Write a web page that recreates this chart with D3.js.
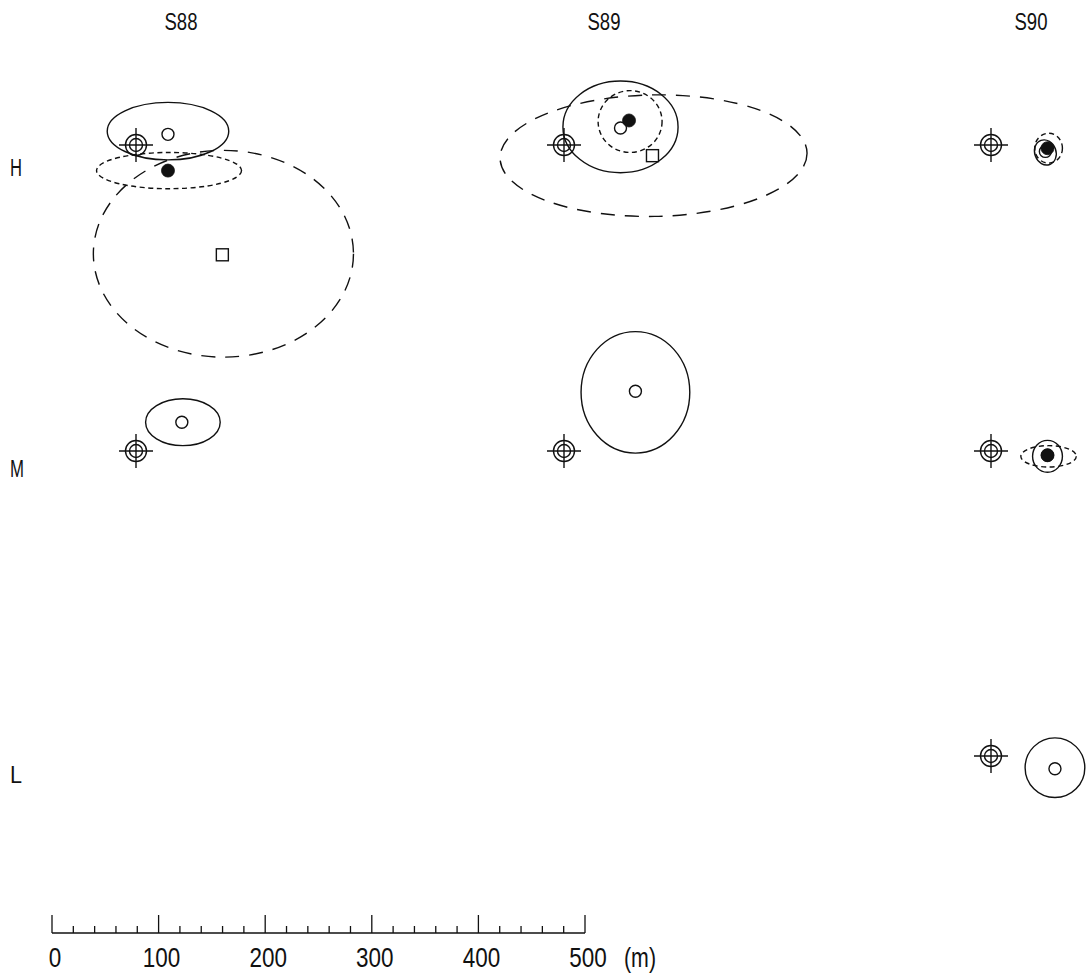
<!DOCTYPE html>
<html>
<head>
<meta charset="utf-8">
<script src="https://cdn.jsdelivr.net/npm/d3@7"></script>
<style>
  html, body { margin: 0; padding: 0; background: #fff; }
  svg { display: block; }
  text { font-family: "Liberation Sans", "DejaVu Sans", sans-serif; font-weight: 400; fill: #111; }
</style>
</head>
<body>
<svg id="chart" width="1087" height="973"></svg>
<script>
// ---------- DATA (metres, relative to the true location; dy positive = up) ----------
const seasons = ["S88", "S89", "S90"];
const heights = ["H", "M", "L"];
const scaleTicks = [0, 100, 200, 300, 400, 500];
const scaleMinorStep = 20;

// true locations present in each panel
const targets = [
  ["S88", "H"], ["S89", "H"], ["S90", "H"],
  ["S88", "M"], ["S89", "M"], ["S90", "M"],
  ["S90", "L"]
];

// method 1: open circle + solid ellipse  [season, height, dx, dy, ellipse cx, cy, rx, ry, rotation]
const openEstimates = [
  ["S88", "H", 30, 10, 30, 13, 57, 27, 0],
  ["S89", "H", 53, 16, 53, 17, 54, 43, 0],
  ["S88", "M", 43, 27, 44, 27, 35, 22, 0],
  ["S89", "M", 67, 56, 67, 55, 51, 57, 0],
  ["S90", "H", 51, -6, 51, -7, 10, 12, -20],
  ["S90", "M", 53, -4, 53, -5, 14, 15, 0],
  ["S90", "L", 60, -12, 60, -11, 28, 28, 0]
];

// method 2: filled circle + short-dashed ellipse
const filledEstimates = [
  ["S88", "H", 30, -24, 31, -24, 68, 17, 0],
  ["S89", "H", 61, 23, 62, 22, 30, 29, 0],
  ["S90", "H", 53, -3, 54, -3, 13, 14, 0],
  ["S90", "M", 53, -4, 54, -5, 26, 10, 0]
];

// method 3: open square + long-dashed ellipse
const squareEstimates = [
  ["S88", "H", 81, -103, 82, -102, 122, 97, 0],
  ["S89", "H", 83, -10, 84, -10, 144, 57, -1]
];

// ---------- LAYOUT ----------
const svg = d3.select("#chart");
const scaleX0 = 52, scaleX1 = 585;
const mScale = d3.scaleLinear().domain([0, 500]).range([scaleX0, scaleX1]); // scale bar
const dist = d3.scaleLinear().domain([0, 500]).range([0, scaleX1 - scaleX0]); // metres -> px

const colX = d3.scaleOrdinal().domain(seasons).range([136, 564, 991]);
const rowY = d3.scaleOrdinal().domain(heights).range([145, 451, 756]);
const colLabelX = d3.scaleOrdinal().domain(seasons).range([181, 604, 1031]);
const rowLabelY = d3.scaleOrdinal().domain(heights).range([176, 477, 783]);

const px = (s, dx) => colX(s) + dist(dx);
const py = (h, dy) => rowY(h) - dist(dy);

const ink = "#111";
const lw = 1.4;

// column labels
svg.selectAll("text.col").data(seasons).join("text")
  .attr("class", "col")
  .attr("x", d => colLabelX(d)).attr("y", 30)
  .attr("text-anchor", "middle")
  .attr("font-size", 24)
  .attr("textLength", 33).attr("lengthAdjust", "spacingAndGlyphs")
  .text(d => d);

// row labels
svg.selectAll("text.row").data(heights).join("text")
  .attr("class", "row")
  .attr("x", 10).attr("y", d => rowLabelY(d))
  .attr("font-size", 23)
  .attr("textLength", d => d === "M" ? 14 : 12).attr("lengthAdjust", "spacingAndGlyphs")
  .text(d => d);

// ellipses
function drawEllipses(data, dash, width) {
  svg.append("g").selectAll("ellipse").data(data).join("ellipse")
    .attr("cx", 0).attr("cy", 0)
    .attr("rx", d => dist(d[6])).attr("ry", d => dist(d[7]))
    .attr("transform", d => `translate(${px(d[0], d[4])},${py(d[1], d[5])}) rotate(${d[8]})`)
    .attr("fill", "none").attr("stroke", ink).attr("stroke-width", width)
    .attr("stroke-dasharray", dash);
}
drawEllipses(squareEstimates, "14,10", lw);
drawEllipses(filledEstimates, "5,3.5", lw);
drawEllipses(openEstimates, null, lw);

// targets
const tg = svg.append("g").selectAll("g").data(targets).join("g")
  .attr("transform", d => `translate(${colX(d[0])},${rowY(d[1])})`)
  .attr("stroke", ink).attr("stroke-width", lw).attr("fill", "none");
tg.append("circle").attr("r", 10.5);
tg.append("circle").attr("r", 6.5);
tg.append("line").attr("x1", -17).attr("x2", 17).attr("y1", 0).attr("y2", 0);
tg.append("line").attr("x1", 0).attr("x2", 0).attr("y1", -17).attr("y2", 17);

// point estimates
svg.append("g").selectAll("rect").data(squareEstimates).join("rect")
  .attr("x", d => px(d[0], d[2]) - 6).attr("y", d => py(d[1], d[3]) - 6)
  .attr("width", 12).attr("height", 12)
  .attr("fill", "#fff").attr("stroke", ink).attr("stroke-width", lw);

svg.append("g").selectAll("circle").data(openEstimates).join("circle")
  .attr("cx", d => px(d[0], d[2])).attr("cy", d => py(d[1], d[3])).attr("r", 6)
  .attr("fill", "#fff").attr("stroke", ink).attr("stroke-width", lw);

svg.append("g").selectAll("circle").data(filledEstimates).join("circle")
  .attr("cx", d => px(d[0], d[2])).attr("cy", d => py(d[1], d[3])).attr("r", 6.5)
  .attr("fill", ink).attr("stroke", ink).attr("stroke-width", 0.8);

// scale bar
const sb = svg.append("g").attr("stroke", ink).attr("stroke-width", 1.3);
const baseY = 933;
sb.append("line").attr("x1", mScale(0)).attr("x2", mScale(500)).attr("y1", baseY).attr("y2", baseY);
const minor = d3.range(0, 500 + 1, scaleMinorStep);
sb.selectAll("line.tick").data(minor).join("line")
  .attr("class", "tick")
  .attr("x1", d => mScale(d)).attr("x2", d => mScale(d))
  .attr("y1", baseY).attr("y2", d => d % 100 === 0 ? baseY - 18 : baseY - 7);

svg.selectAll("text.sl").data(scaleTicks).join("text")
  .attr("class", "sl")
  .attr("x", d => mScale(d) + 3).attr("y", 967)
  .attr("text-anchor", "middle")
  .attr("font-size", 27)
  .attr("textLength", d => String(d).length * 12.5).attr("lengthAdjust", "spacingAndGlyphs")
  .text(d => d);
svg.append("text").attr("x", 624).attr("y", 967)
  .attr("font-size", 27)
  .attr("textLength", 32).attr("lengthAdjust", "spacingAndGlyphs")
  .text("(m)");
</script>
</body>
</html>
